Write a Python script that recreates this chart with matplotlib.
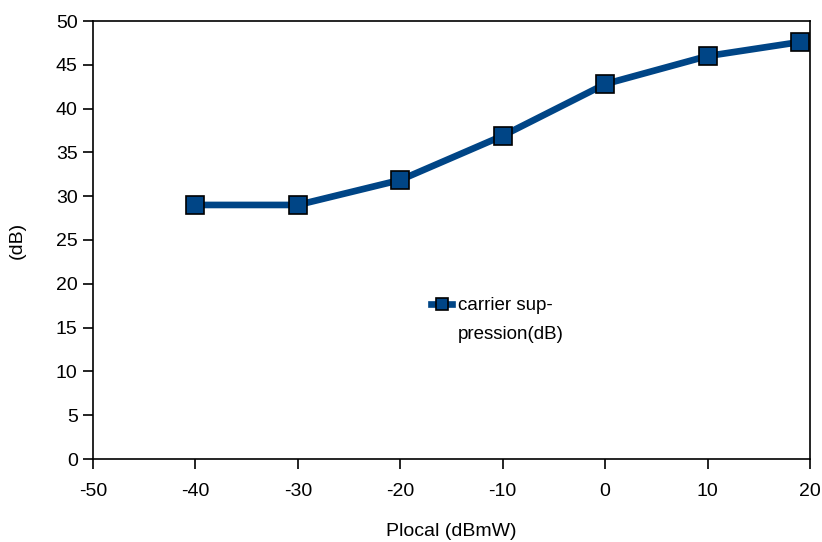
import matplotlib.pyplot as plt
from matplotlib.lines import Line2D

plt.rcParams['font.family'] = ['Liberation Sans', 'DejaVu Sans']
plt.rcParams['axes.unicode_minus'] = False

# data
plocal = [-40, -30, -20, -10, 0, 10, 19]
suppression = [29.0, 29.0, 31.85, 36.9, 42.8, 46.0, 47.6]
label_line1 = 'carrier sup-'
label_line2 = 'pression(dB)'
blue = '#004586'

fig = plt.figure(figsize=(8.22, 5.42), dpi=100)
ax = fig.add_axes([93 / 822, 83 / 542, 717 / 822, 438 / 542])

ax.plot(plocal, suppression, color=blue, lw=4.8, marker='s', ms=13.5,
        mec='black', mew=1.2, label=label_line1)

ax.set_xlim(-50, 20)
ax.set_ylim(0, 50)
ax.set_xticks(range(-50, 21, 10))
ax.set_yticks(range(0, 51, 5))
ax.tick_params(direction='out', length=7, width=1.2, labelsize=14)
ax.tick_params(axis='x', pad=10)
ax.tick_params(axis='y', pad=4)
for s in ax.spines.values():
    s.set_linewidth(1.2)

ax.set_xlabel('Plocal (dBmW)', fontsize=14, labelpad=17)
ax.set_ylabel('(dB)', fontsize=14, labelpad=22)

# second line of the legend label, no handle
blank = Line2D([], [], color='none', label=label_line2)
handles, labels = ax.get_legend_handles_labels()
leg = ax.legend(handles + [blank], labels + [label_line2],
                loc='upper left', bbox_to_anchor=(422 / 822, 1 - 288 / 542),
                bbox_transform=fig.transFigure, frameon=False, fontsize=13.5,
                handlelength=1.1, handletextpad=0.3, markerscale=0.68,
                borderpad=0, labelspacing=0.6)

fig.savefig('out.png', dpi=100)
